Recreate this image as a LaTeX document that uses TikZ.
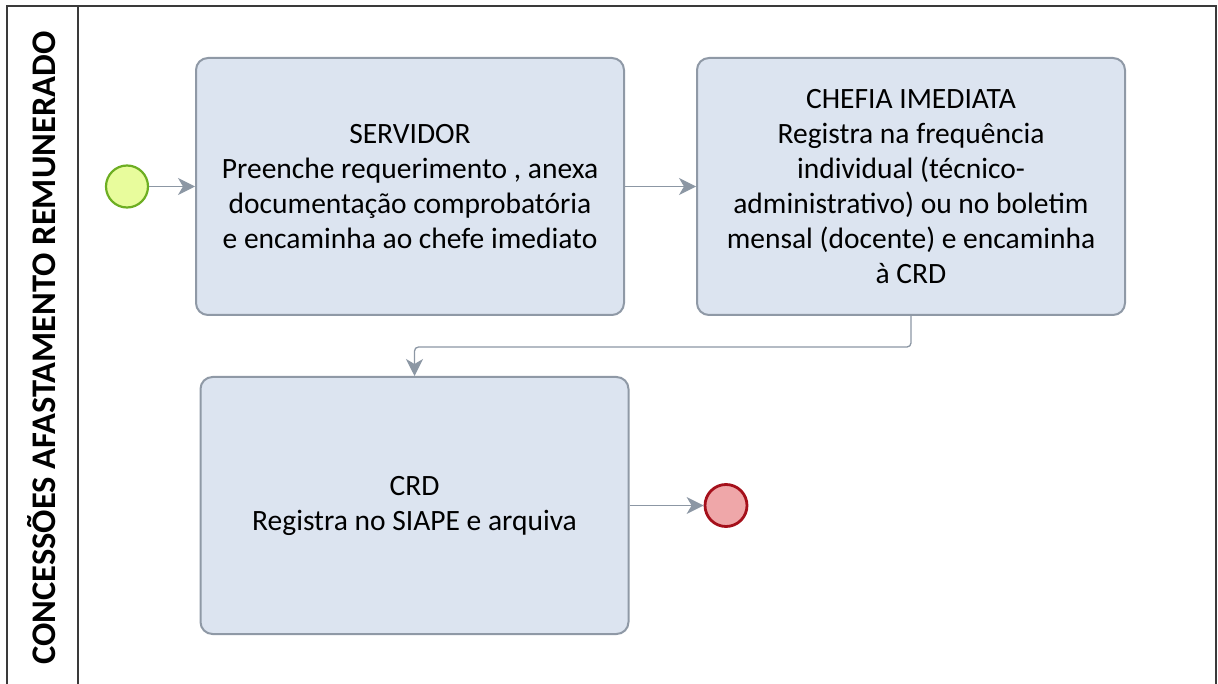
\documentclass[tikz,border=0pt]{standalone}
\usepackage{fontspec}
\setmainfont{Carlito}
\usetikzlibrary{arrows.meta}
\usetikzlibrary{positioning}

\definecolor{boxfill}{HTML}{DCE4F0}
\definecolor{boxline}{HTML}{8F99A6}
\definecolor{flowline}{HTML}{8C97A4}
\definecolor{startfill}{HTML}{E8FC9C}
\definecolor{startline}{HTML}{6DAE22}
\definecolor{endfill}{HTML}{EFA7A9}
\definecolor{endline}{HTML}{A5101B}
\definecolor{laneline}{HTML}{3A3A3A}

\begin{document}
\begin{tikzpicture}[x=1pt,y=-1pt,->,>={Stealth[length=17pt,width=17pt,inset=5pt]},auto,
    task node/.style={rectangle,rounded corners=12pt,draw=boxline,line width=2pt,fill=boxfill,
        minimum width=428pt,minimum height=257pt,align=center,
        font=\fontsize{29.5}{35}\selectfont},
    start node/.style={circle,draw=startline,line width=2.2pt,fill=startfill,minimum size=42pt,inner sep=0pt},
    end node/.style={circle,draw=endline,line width=2.8pt,fill=endfill,minimum size=42pt,inner sep=0pt},
    flow/.style={draw=flowline,line width=1.3pt}]

    \useasboundingbox (0,0) rectangle (1218,684);

    % lane
    \draw[-,laneline,line width=1.6pt] (7,6) rectangle (1216,700);
    \draw[-,laneline,line width=1.6pt] (78,6) -- (78,700);
    \node[rotate=90,font=\bfseries\fontsize{34.5}{40}\selectfont] (lane) at (42,348) {CONCESSÕES AFASTAMENTO REMUNERADO};

    % tasks
    \node[task node] (servidor) at (410,186.5) {SERVIDOR\\Preenche requerimento , anexa\\documentação comprobatória\\e encaminha ao chefe imediato};
    \node[task node] (chefia) [right=71pt of servidor] {CHEFIA IMEDIATA\\Registra na frequência\\individual (técnico-\\administrativo) ou no boletim\\mensal (docente) e encaminha\\à CRD};
    \node[task node] (crd) at (414.5,505.5) {CRD\\Registra no SIAPE e arquiva};

    % events
    \node[start node] (inicio) at (127,186.5) {};
    \node[end node] (fim) at (726,505.5) {};

    % flows
    \draw[flow] (inicio) -- (servidor);
    \draw[flow] (servidor) -- (chefia);
    \draw[flow,rounded corners=4pt] (chefia.south) -- ++(0,31) -| (crd.north);
    \draw[flow] (crd) -- (fim);

\end{tikzpicture}
\end{document}
